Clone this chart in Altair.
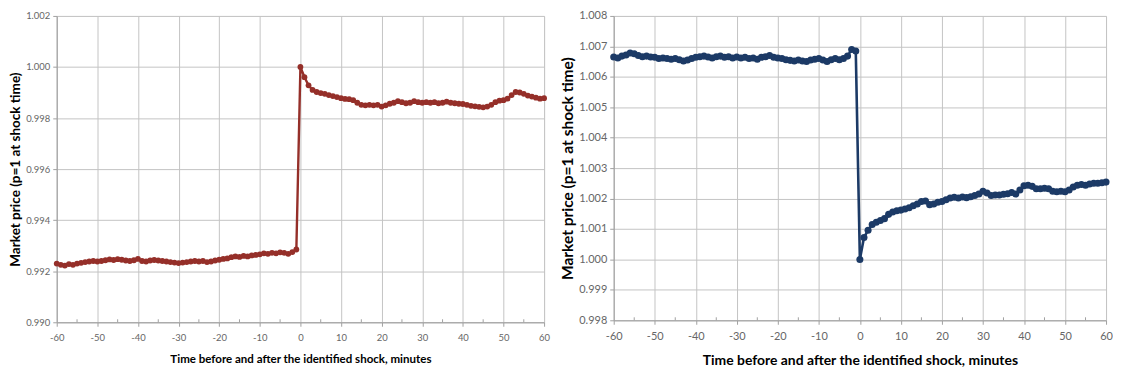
import altair as alt
import pandas as pd

minutes = list(range(-60, 61))

left_price = [
    0.99230, 0.99225, 0.99222, 0.99228, 0.99225, 0.99230, 0.99233, 0.99236, 0.99238, 0.99240,
    0.99238, 0.99240, 0.99243, 0.99246, 0.99244, 0.99247, 0.99245, 0.99242, 0.99240, 0.99243,
    0.99248, 0.99240, 0.99238, 0.99242, 0.99244, 0.99242, 0.99240, 0.99238, 0.99236, 0.99234,
    0.99232, 0.99234, 0.99236, 0.99238, 0.99240, 0.99238, 0.99240, 0.99236, 0.99238, 0.99242,
    0.99245, 0.99248, 0.99250, 0.99255, 0.99258, 0.99256, 0.99260, 0.99258, 0.99262, 0.99264,
    0.99266, 0.99270, 0.99268, 0.99272, 0.99270, 0.99274, 0.99272, 0.99268, 0.99275, 0.99285,
    1.00000, 0.99960, 0.99928, 0.99910, 0.99902, 0.99898, 0.99895, 0.99890, 0.99886, 0.99882,
    0.99878, 0.99875, 0.99874, 0.99870, 0.99860, 0.99852, 0.99850, 0.99852, 0.99850, 0.99852,
    0.99845, 0.99850, 0.99856, 0.99860, 0.99866, 0.99862, 0.99858, 0.99860, 0.99866, 0.99862,
    0.99860, 0.99862, 0.99860, 0.99862, 0.99858, 0.99860, 0.99864, 0.99860, 0.99858, 0.99856,
    0.99855, 0.99852, 0.99848, 0.99846, 0.99844, 0.99842, 0.99845, 0.99852, 0.99862, 0.99868,
    0.99870, 0.99876, 0.99890, 0.99902, 0.99900, 0.99895, 0.99888, 0.99884, 0.99880, 0.99876,
    0.99878,
]

right_price = [
    1.00665, 1.00662, 1.00668, 1.00672, 1.00678, 1.00676, 1.00670, 1.00666, 1.00668, 1.00665,
    1.00664, 1.00660, 1.00662, 1.00660, 1.00658, 1.00660, 1.00656, 1.00652, 1.00655, 1.00660,
    1.00664, 1.00666, 1.00668, 1.00665, 1.00662, 1.00666, 1.00668, 1.00664, 1.00666, 1.00662,
    1.00665, 1.00662, 1.00664, 1.00660, 1.00662, 1.00658, 1.00664, 1.00666, 1.00670, 1.00664,
    1.00662, 1.00660, 1.00656, 1.00654, 1.00652, 1.00655, 1.00652, 1.00650, 1.00655, 1.00658,
    1.00660, 1.00655, 1.00650, 1.00656, 1.00660, 1.00656, 1.00660, 1.00668, 1.00690, 1.00685,
    1.00000, 1.00072, 1.00096, 1.00115, 1.00122, 1.00128, 1.00134, 1.00148, 1.00156, 1.00160,
    1.00162, 1.00166, 1.00170, 1.00176, 1.00182, 1.00190, 1.00192, 1.00180, 1.00182, 1.00188,
    1.00190, 1.00196, 1.00202, 1.00204, 1.00202, 1.00205, 1.00203, 1.00206, 1.00210, 1.00215,
    1.00224, 1.00218, 1.00210, 1.00212, 1.00212, 1.00214, 1.00216, 1.00220, 1.00215, 1.00228,
    1.00242, 1.00244, 1.00240, 1.00232, 1.00232, 1.00234, 1.00232, 1.00224, 1.00222, 1.00224,
    1.00222, 1.00228, 1.00238, 1.00244, 1.00246, 1.00244, 1.00248, 1.00250, 1.00250, 1.00252,
    1.00254,
]

x_ticks = [-60, -50, -40, -30, -20, -10, 0, 10, 20, 30, 40, 50, 60]
minor_ticks = [-55, -45, -35, -25, -15, -5, 5, 15, 25, 35, 45, 55]
left_y_ticks = [0.990, 0.992, 0.994, 0.996, 0.998, 1.000, 1.002]
right_y_ticks = [0.998, 0.999, 1.000, 1.001, 1.002, 1.003, 1.004, 1.005, 1.006, 1.007, 1.008]

x_title = "Time before and after the identified shock, minutes"
y_title = "Market price (p=1 at shock time)"

FONT = "Lato"
GRID = "#c4c4c4"
LABEL = "#666666"


def panel(values, yticks, color, w, h, lab_size, title_size, ytitle_size, pt_size, stroke, xtpad):
    df = pd.DataFrame({"t": minutes, "p": values})
    mdf = pd.DataFrame({"t": minor_ticks})
    xs = alt.Scale(domain=[-60, 60], nice=False, zero=False)
    ys = alt.Scale(domain=[yticks[0], yticks[-1]], nice=False, zero=False)
    xax = alt.Axis(values=x_ticks, title=x_title, labelFontSize=lab_size, labelColor=LABEL,
                   labelExpr="toString(datum.value)",
                   labelFont=FONT, titleFont=FONT, titleFontSize=title_size, titleFontWeight="bold",
                   titleColor="#000000", gridColor=GRID, domainColor="#a0a0a0", tickColor="#a0a0a0",
                   tickSize=4, labelPadding=6, titlePadding=xtpad, labelFlush=False)
    yax = alt.Axis(values=yticks, format=".3f", title=y_title, labelFontSize=lab_size,
                   labelColor=LABEL, labelFont=FONT, titleFont=FONT, titleFontSize=ytitle_size,
                   titleFontWeight="bold", titleColor="#000000", gridColor=GRID,
                   domainColor="#a0a0a0", tickColor="#a0a0a0", tickSize=4, labelPadding=3,
                   titlePadding=3)
    line = alt.Chart(df).mark_line(
        color=color, strokeWidth=stroke,
        point=alt.OverlayMarkDef(filled=True, color=color, size=pt_size, opacity=1),
    ).encode(
        x=alt.X("t:Q", scale=xs, axis=xax),
        y=alt.Y("p:Q", scale=ys, axis=yax),
    )
    minor = alt.Chart(mdf).mark_rule(color="#a0a0a0", strokeWidth=1).encode(
        x=alt.X("t:Q", scale=xs),
        y=alt.value(h - 3),
        y2=alt.value(h),
    )
    return alt.layer(minor, line).properties(width=w, height=h)


left = panel(left_price, left_y_ticks, "#952f29", 490, 308, 9.5, 11.6, 13.6, 34, 2.4, 12)
right = panel(right_price, right_y_ticks, "#1c3a66", 495, 306, 11, 14, 15.6, 50, 2.6, 12)

chart = alt.hconcat(left, right, spacing=9).resolve_scale(x="independent", y="independent").properties(
    padding={"left": 0, "top": 0, "right": 0, "bottom": 0}
).configure_view(stroke=None).configure(background="white")

chart.save("out.html", embed_options={"renderer": "svg", "actions": False})
